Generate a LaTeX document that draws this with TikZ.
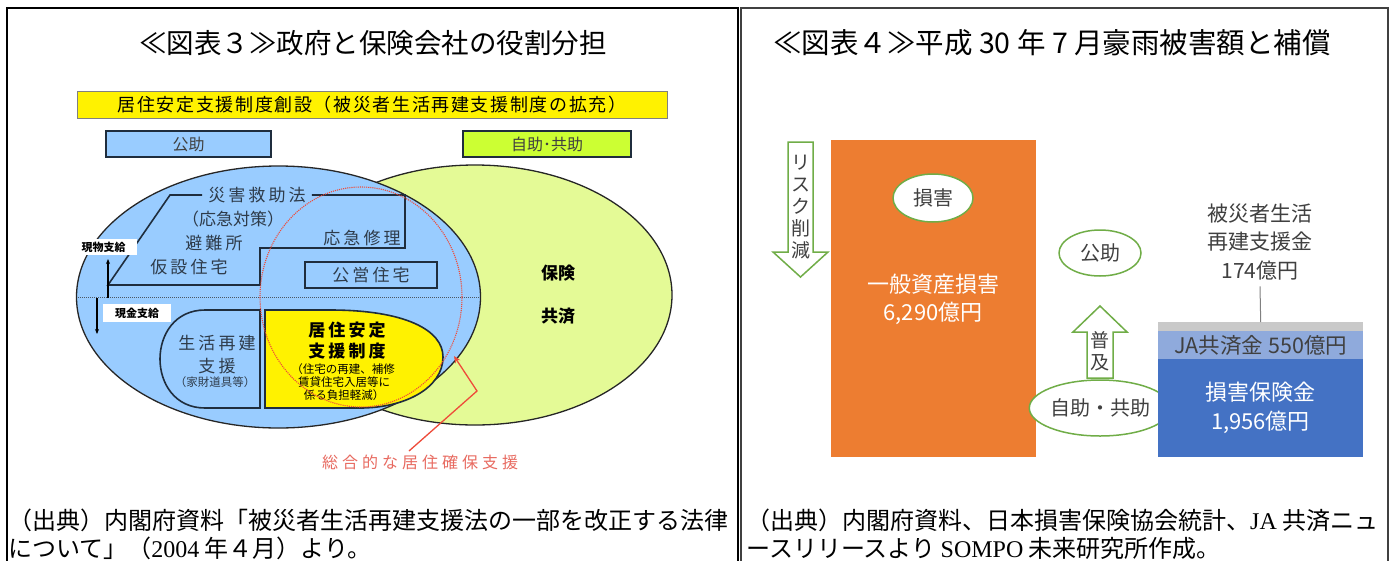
\documentclass[tikz,border=0pt]{standalone}
\usepackage{fontspec}
\setmainfont{Noto Sans CJK JP}
\newfontfamily\lserif{Liberation Serif}
\newfontfamily\spcA{Noto Sans CJK JP}[LetterSpace=18]
\newfontfamily\spcB{Noto Sans CJK JP}[LetterSpace=9]
\newfontfamily\spcC{Noto Sans CJK JP}[LetterSpace=25]
\usetikzlibrary{arrows.meta,shapes.geometric}
\newcommand\myfs[2]{\fontsize{#1}{#2}\selectfont}
\definecolor{bluefill}{HTML}{99CCFF}
\definecolor{greenfill}{HTML}{E4FA96}
\definecolor{limefill}{HTML}{CCFF33}
\definecolor{dkline}{HTML}{1F2D3D}
\definecolor{txtc}{HTML}{2E3B4A}
\definecolor{redl}{HTML}{EE4B3A}
\definecolor{redt}{HTML}{E86A60}
\definecolor{orng}{HTML}{ED7D31}
\definecolor{grn}{HTML}{70AD47}
\definecolor{bblue}{HTML}{4472C4}
\definecolor{lblue}{HTML}{8FAADC}
\definecolor{gbar}{HTML}{C9C9C9}
\definecolor{txtg}{HTML}{404040}
\tikzset{
  dk/.style={draw=dkline, line width=1.6pt},
  lbl/.style={inner sep=0, text=txtc},
  gell/.style={ellipse, draw=grn, line width=1.5pt, fill=white, inner sep=0, text=txtg},
  garrow/.style={draw=grn, line width=1.5pt, fill=white, line join=miter},
  barbox/.style={inner sep=0, minimum width=205pt, anchor=north west},
  foot/.style={anchor=west, inner sep=0, font=\myfs{24}{28}},
}
\begin{document}
\begin{tikzpicture}[x=1pt,y=-1pt]
\useasboundingbox (0,0) rectangle (1392,560);
\fill[white] (0,0) rectangle (1392,560);
% frames
\draw[line width=1.5pt] (7,8) rectangle (738,580);
\draw[line width=1.5pt, black!75] (741,8) rectangle (1388,580);

% ===== left panel =====
\node[font=\myfs{27.5}{30}] (t1) at (373,43) {≪図表３≫政府と保険会社の役割分担};
\node[draw=gray, line width=0.8pt, fill=yellow, minimum width=590pt, minimum height=27pt, inner sep=0, font=\spcB\myfs{18}{20}] (ban) at (372,104.5) {居住安定支援制度創設（被災者生活再建支援制度の拡充）};
\node[dk, fill=bluefill, minimum width=165pt, minimum height=26pt, inner sep=0, text=txtg, font=\myfs{16}{18}] (kojo) at (188.5,144) {公助};
\node[dk, fill=limefill, minimum width=168pt, minimum height=26pt, inner sep=0, text=txtg, font=\myfs{16}{18}] (jijo) at (547,144) {自助･共助};

% ellipses
\draw[fill=greenfill, line width=1.3pt, draw=black!85] (475,295) ellipse [x radius=197pt, y radius=130pt];
\draw[fill=bluefill, line width=1.3pt, draw=black!85] (278.5,297) ellipse [x radius=202pt, y radius=131pt];

% dotted horizontal divider
\draw[dkline!80, densely dotted, line width=1pt] (78,297) -- (479.5,297);

% upper shape
\node[lbl, font=\spcA\myfs{17}{20}] (saigai) at (257,195) {災害救助法};
\draw[dk] (saigai.west) ++(-6,0) -- (170,195) -- (108,285) -- (260,285) -- (260,248) -- (405,248) -- (405,195) -- ([xshift=6pt]saigai.east);
\node[lbl, font=\myfs{17}{20}] (okyu) at (233,219) {（応急対策）};
\node[lbl, font=\spcA\myfs{17}{20}] (hinan) at (214,243) {避難所};
\node[lbl, font=\spcA\myfs{17}{20}] (kasetsu) at (189,267) {仮設住宅};
\node[lbl, font=\spcA\myfs{17}{20}] (shuri) at (362,238) {応急修理};
\node[dk, fill=bluefill, minimum width=132pt, minimum height=26pt, inner sep=0, text=txtc, font=\spcA\myfs{17}{20}] (koei) at (371,275) {公営住宅};

% genbutsu / genkin
\node[fill=white, inner sep=0, minimum width=67pt, minimum height=16pt, font=\bfseries\myfs{11}{13}] (genb) at (103.5,247) {現物支給};
\node[fill=white, inner sep=0, minimum width=68pt, minimum height=18pt, font=\bfseries\myfs{11}{13}] (genk) at (137,313) {現金支給};
\coordinate (gbs) at (108,298);
\coordinate (gbe) at (108,259);
\draw[line width=1.2pt, -{Stealth[length=5pt,width=4pt]}] (gbs) -- (gbe);
\coordinate (gks) at (97,298);
\coordinate (gke) at (97,334);
\draw[line width=1.2pt, -{Stealth[length=5pt,width=4pt]}] (gks) -- (gke);

% lower shapes
\draw[dk, fill=bluefill] (260,310) -- (205,310) .. controls (145,310) and (145,408) .. (205,408) -- (260,408) -- cycle;
\node[lbl, font=\spcA\myfs{17}{20}] (seikatsu) at (217,343) {生活再建};
\node[lbl, font=\spcA\myfs{17}{20}] (shien) at (217,366) {支援};
\node[lbl, font=\myfs{11.5}{13}] (kazai) at (215,382) {（家財道具等）};

\draw[dk, fill=yellow] (265,310) -- (330,310) .. controls (405,310) and (443,330) .. (443,357) .. controls (443,388) and (405,408) .. (360,408) -- (265,408) -- cycle;
\node[inner sep=0, font=\spcA\bfseries\myfs{17}{20}] (kyoju1) at (347,330) {居住安定};
\node[inner sep=0, font=\spcA\bfseries\myfs{17}{20}] (kyoju2) at (347,351) {支援制度};
\node[inner sep=0, font=\myfs{11.5}{13}] (k3) at (343,369) {（住宅の再建、補修};
\node[inner sep=0, font=\myfs{11.5}{13}] (k4) at (344,382) {賃貸住宅入居等に};
\node[inner sep=0, font=\myfs{11.5}{13}] (k5) at (344,395) {係る負担軽減）};

% red dotted ellipse
\draw[redl, densely dotted, line width=1.1pt] (361,297) ellipse [x radius=101pt, y radius=110pt];

% hoken kyosai
\node[inner sep=0, font=\bfseries\myfs{17}{20}] (hoken) at (558,273) {保険};
\node[inner sep=0, font=\bfseries\myfs{17}{20}] (kyosai) at (558,316) {共済};

% sogo label and red leader
\node[inner sep=0, text=redt, font=\spcC\myfs{16}{18}] (sogo) at (420,462) {総合的な居住確保支援};
\coordinate (rs) at (409,451);
\coordinate (rb) at (477,391);
\coordinate (rt) at (454,356);
\draw[redl, line width=1.3pt, -{Stealth[length=7pt,width=6pt]}] (rs) -- (rb) -- (rt);

% ===== right panel =====
\node[font=\myfs{28.5}{30}] (t2) at (1052,43) {≪図表４≫平成 30 年 7 月豪雨被害額と補償};

\draw[garrow] (788,142) -- (813,142) -- (813,252) -- (828,252) -- (800.5,277) -- (773,252) -- (788,252) -- cycle;
\node[inner sep=0, align=center, text=txtg, font=\myfs{19}{22}] (risk) at (801,207) {リ\\ス\\ク\\削\\減};

\fill[orng] (831,140) rectangle (1036,457);
\node[gell, minimum width=80pt, minimum height=48pt, font=\myfs{20}{22}] (songai) at (933,198) {損害};
\node[inner sep=0, align=center, text=white, font=\myfs{22}{28}] (ippan) at (933,299) {一般資産損害\\6,290億円};

\node[gell, minimum width=82pt, minimum height=46pt, font=\myfs{20}{22}] (kojo2) at (1100,253) {公助};
\draw[garrow] (1087,378) -- (1087,332) -- (1073,332) -- (1100,306) -- (1127,332) -- (1113,332) -- (1113,378) -- cycle;
\node[inner sep=0, align=center, text=txtg, font=\myfs{19}{22}] (fukyu) at (1100,351) {普\\及};
\node[gell, minimum width=110pt, minimum height=56pt, font=\myfs{20}{22}] (jijo2) at (1100,408) {自助・共助};

\node[barbox, fill=gbar, minimum height=9pt] (gb) at (1158,322) {};
\node[barbox, fill=lblue, minimum height=28pt, text=txtg, font=\myfs{21.5}{24}] (ja) at (1158,331) {JA共済金 550億円};
\node[barbox, fill=bblue, minimum height=98pt] (sh) at (1158,359) {};
\node[inner sep=0, align=center, text=white, font=\myfs{22}{29}] (shtext) at (1260.5,407.5) {損害保険金\\1,956億円};
\node[inner sep=0, align=center, text=txtg, font=\myfs{21}{28.5}] (hisai) at (1260,242) {被災者生活\\再建支援金\\174億円};
\draw[gray, line width=1pt] ([yshift=-6pt]hisai.south) -- (gb.north);

% footers
\node[foot] (f1) at (8,520) {（出典）内閣府資料「被災者生活再建支援法の一部を改正する法律};
\node[foot] (f2) at (8,548) {について」（{\lserif 2004} 年４月）より。};
\node[foot] (f3) at (746,520) {（出典）内閣府資料、日本損害保険協会統計、{\lserif JA} 共済ニュ};
\node[foot] (f4) at (746,548) {ースリリースより {\lserif SOMPO} 未来研究所作成。};
\end{tikzpicture}
\end{document}
